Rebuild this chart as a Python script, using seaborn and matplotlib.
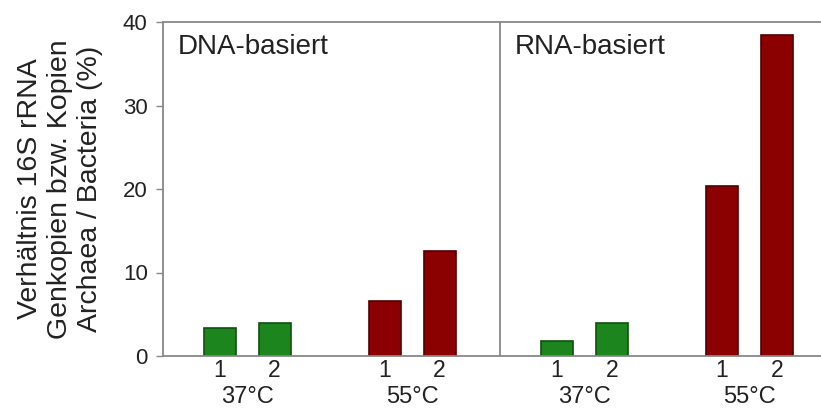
import pandas as pd
import seaborn as sns
import matplotlib.pyplot as plt

# values
panels = ['DNA-basiert', 'RNA-basiert']
temps = ['37°C', '37°C', '55°C', '55°C']
replicates = ['1', '2', '1', '2']
dna_values = [3.3, 4.0, 6.6, 12.6]
rna_values = [1.75, 4.0, 20.3, 38.5]

sns.set_style('ticks')
plt.rcParams['font.family'] = ['Liberation Sans', 'DejaVu Sans']

# layout of bars along a single numeric x axis (two side-by-side panels)
panel_w = 6.13
offsets = [1.03, 2.03, 4.03, 5.03]

rows = []
for p, (name, vals) in enumerate(zip(panels, [dna_values, rna_values])):
    for off, t, r, v in zip(offsets, temps, replicates, vals):
        rows.append({'panel': name, 'pos': p * panel_w + off, 'temp': t, 'rep': r, 'value': v})
df = pd.DataFrame(rows)

colors = {'37°C': ('#1d851d', '#0f4f0f'), '55°C': ('#8b0000', '#520000')}
txt = '#222222'

fig = plt.figure(figsize=(8.21, 4.17), dpi=100)
ax = fig.add_axes([163 / 821, 61 / 417, 658 / 821, 334 / 417])

for t, (fc, ec) in colors.items():
    sub = df[df['temp'] == t]
    sns.barplot(data=sub, x='pos', y='value', native_scale=True, width=0.58,
                color=fc, edgecolor=ec, linewidth=1.2, saturation=1, ax=ax, errorbar=None)

ax.set_xlim(0, 658 / 55)
ax.set_ylim(0, 40)
ax.set_yticks([0, 10, 20, 30, 40])
ax.set_xticks(df['pos'])
ax.set_xticklabels(df['rep'])
ax.tick_params(axis='x', length=0, pad=2, labelsize=16.5, labelcolor=txt)
ax.tick_params(axis='y', length=5, width=1, color='#888888', pad=6, labelsize=16,
               labelcolor=txt)
ax.set_xlabel('')
ax.set_ylabel('Verhältnis 16S rRNA\nGenkopien bzw. Kopien\nArchaea / Bacteria (%)',
              fontsize=20.5, linespacing=1.22, labelpad=14, color=txt)

for side in ['left', 'bottom', 'top']:
    ax.spines[side].set_color('#888888')
    ax.spines[side].set_linewidth(1.3)
ax.spines['right'].set_visible(False)
ax.axvline(panel_w, color='#888888', lw=1.3)

# temperature group labels and panel titles
for p, name in enumerate(panels):
    ax.text(p * panel_w + 0.27, 0.925, name, transform=ax.get_xaxis_transform(),
            fontsize=20, va='center', ha='left', color=txt)
    grp = df[df['panel'] == name].groupby('temp', sort=False)['pos'].mean()
    for t, x in grp.items():
        ax.text(x, -0.122, t, transform=ax.get_xaxis_transform(),
                fontsize=17, ha='center', va='center', color=txt)

fig.savefig('out.png', dpi=100)
